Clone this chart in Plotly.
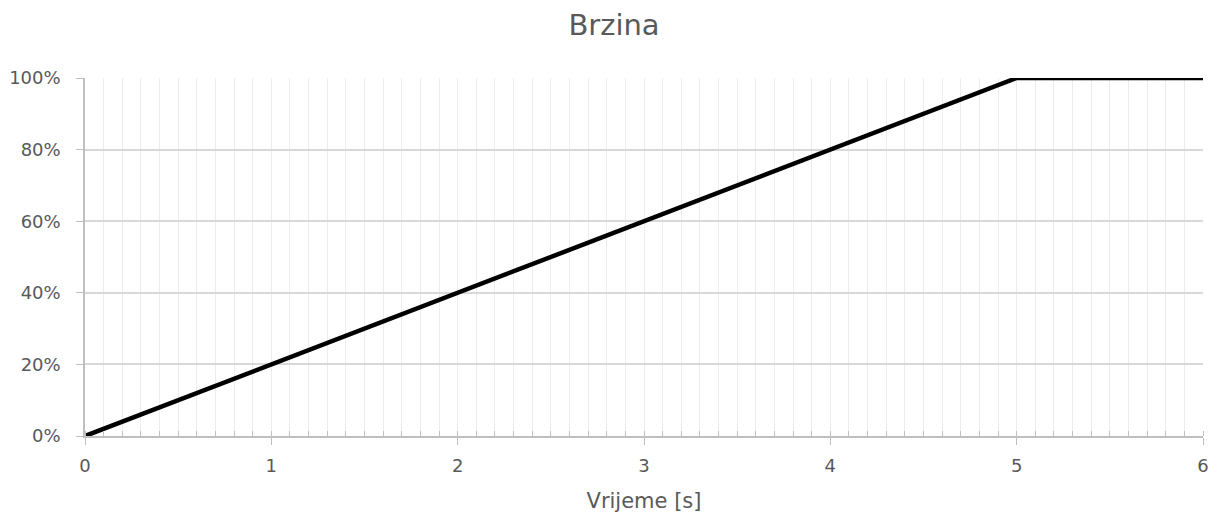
import plotly.graph_objects as go

time_s = [0, 5, 6]
speed = [0.0, 1.0, 1.0]
x_ticks = [0, 1, 2, 3, 4, 5, 6]
y_ticks = [0, 0.2, 0.4, 0.6, 0.8, 1.0]
y_labels = ["0%", "20%", "40%", "60%", "80%", "100%"]

fig = go.Figure()
fig.add_trace(go.Scatter(x=time_s, y=speed, mode="lines",
                         line=dict(color="black", width=4.5), showlegend=False,
                         cliponaxis=False))

font_family = "DejaVu Sans, sans-serif"
fig.update_layout(
    width=1212, height=514,
    margin=dict(l=77, r=17, t=70, b=86, autoexpand=False),
    paper_bgcolor="white", plot_bgcolor="white",
    title=dict(text="Brzina", x=0.5, xanchor="center", y=0.968, yanchor="middle",
               font=dict(family=font_family, size=29, color="#595959")),
    font=dict(family=font_family, size=18, color="#595959"),
)
fig.update_xaxes(
    range=[0, 6], tickvals=x_ticks, ticktext=[str(v) for v in x_ticks],
    showgrid=True, gridcolor="#ededed", gridwidth=1,
    ticks="outside", ticklen=7, tickcolor="#bfbfbf", tickwidth=1,
    showline=True, linecolor="#bfbfbf", linewidth=1.5,
    zeroline=False, ticklabelstandoff=6, automargin=False,
    minor=dict(dtick=0.1, showgrid=True, gridcolor="#ededed", gridwidth=1,
               ticks="inside", ticklen=5, tickcolor="#bfbfbf", tickwidth=1),
    tickfont=dict(size=18, color="#595959"),
    title=dict(text="Vrijeme [s]", standoff=18, font=dict(size=21, color="#595959")),
)
fig.update_yaxes(
    range=[0, 1], tickvals=y_ticks, ticktext=y_labels,
    showgrid=True, gridcolor="#d9d9d9", gridwidth=1.5,
    ticks="outside", ticklen=7, tickcolor="#bfbfbf", tickwidth=1,
    showline=True, linecolor="#bfbfbf", linewidth=1.5,
    zeroline=False, ticklabelstandoff=12, automargin=False,
    tickfont=dict(size=18, color="#595959"),
)
fig.write_html("out.html")
